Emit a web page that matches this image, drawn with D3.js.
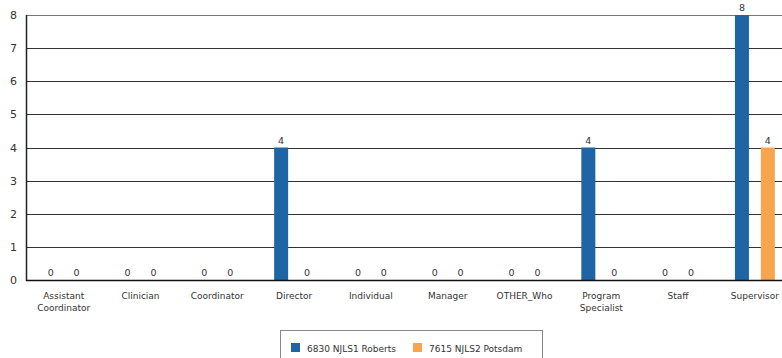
<!DOCTYPE html>
<html>
<head>
<meta charset="utf-8">
<script src="https://cdn.jsdelivr.net/npm/d3@7"></script>
<style>
  body { margin: 0; background: #fff; }
  svg { display: block; font-family: "DejaVu Sans", Verdana, sans-serif; }
</style>
</head>
<body>
<svg width="782" height="358"></svg>
<script>
var categories = ['Assistant Coordinator', 'Clinician', 'Coordinator', 'Director', 'Individual',
  'Manager', 'OTHER_Who', 'Program Specialist', 'Staff', 'Supervisor'];
var series = ['6830 NJLS1 Roberts', '7615 NJLS2 Potsdam'];
var roberts = [0, 0, 0, 4, 0, 0, 0, 4, 0, 8];
var potsdam = [0, 0, 0, 0, 0, 0, 0, 0, 0, 4];
var yTicks = [0, 1, 2, 3, 4, 5, 6, 7, 8];
var colors = ['#1f64a5', '#f9a54f'];

var svg = d3.select('svg');
var plotLeft = 26, plotBottom = 280, plotTop = 15, plotRight = 793.3;

var x0 = d3.scaleBand().domain(categories).range([25.3, plotRight])
  .paddingInner(0.325).paddingOuter(0.1625);
var x1 = d3.scaleBand().domain(series).range([0, x0.bandwidth()]);
var y = d3.scaleLinear().domain([0, 8]).range([plotBottom, plotTop]);
var barW = 14;

// gridlines
svg.append('g').selectAll('line')
  .data(yTicks.filter(function(d) { return d > 0; }))
  .enter().append('line')
  .attr('x1', plotLeft).attr('x2', 782)
  .attr('y1', function(d) { return Math.round(y(d)) + 0.5; })
  .attr('y2', function(d) { return Math.round(y(d)) + 0.5; })
  .attr('stroke', function(d) { return d === 8 ? '#777' : '#333'; })
  .attr('stroke-width', 1);

// y axis labels
var yAxis = d3.axisLeft(y).tickValues(yTicks).tickSize(0).tickPadding(9);
svg.append('g').attr('transform', 'translate(' + plotLeft + ',0)').call(yAxis)
  .call(function(g) {
    g.select('.domain').remove();
    g.selectAll('text').attr('font-size', 11).attr('fill', '#333')
      .attr('font-family', '"DejaVu Sans", sans-serif');
  });

// bars
var rows = categories.map(function(c, i) {
  return { cat: c, vals: [roberts[i], potsdam[i]] };
});
var grp = svg.append('g').selectAll('g').data(rows).enter().append('g')
  .attr('transform', function(d) { return 'translate(' + x0(d.cat) + ',0)'; });

grp.selectAll('rect').data(function(d) {
    return d.vals.map(function(v, j) { return { s: series[j], v: v, j: j }; });
  })
  .enter().append('rect')
  .attr('x', function(d) { return x1(d.s) + x1.bandwidth() / 2 - barW / 2; })
  .attr('width', barW)
  .attr('y', function(d) { return y(d.v); })
  .attr('height', function(d) { return plotBottom - y(d.v); })
  .attr('fill', function(d) { return colors[d.j]; });

grp.selectAll('text').data(function(d) {
    return d.vals.map(function(v, j) { return { s: series[j], v: v }; });
  })
  .enter().append('text')
  .attr('x', function(d) { return x1(d.s) + x1.bandwidth() / 2; })
  .attr('y', function(d) { return y(d.v) - 4; })
  .attr('text-anchor', 'middle')
  .attr('font-size', 9.5)
  .attr('fill', '#333')
  .text(function(d) { return d.v; });

// axis lines
svg.append('line').attr('x1', plotLeft + 0.5).attr('x2', plotLeft + 0.5)
  .attr('y1', plotTop).attr('y2', plotBottom + 1).attr('stroke', '#222').attr('stroke-width', 1.5);
svg.append('line').attr('x1', plotLeft).attr('x2', 782)
  .attr('y1', plotBottom + 0.5).attr('y2', plotBottom + 0.5).attr('stroke', '#111').attr('stroke-width', 1.5);

// category labels
var words = {
  'Assistant Coordinator': ['Assistant', 'Coordinator'],
  'Program Specialist': ['Program', 'Specialist']
};
svg.append('g').selectAll('text').data(categories).enter().append('text')
  .attr('x', function(d) { return x0(d) + x0.bandwidth() / 2; })
  .attr('y', 299)
  .attr('text-anchor', 'middle')
  .attr('font-size', 9)
  .attr('fill', '#333')
  .each(function(d) {
    var lines = words[d] || [d];
    var t = d3.select(this);
    lines.forEach(function(l, i) {
      t.append('tspan').attr('x', x0(d) + x0.bandwidth() / 2)
        .attr('dy', i === 0 ? 0 : 12).text(l);
    });
  });

// legend
var lg = svg.append('g');
lg.append('rect').attr('x', 280.5).attr('y', 330.5).attr('width', 262).attr('height', 32)
  .attr('fill', '#fff').attr('stroke', '#888');
var items = lg.selectAll('g').data(series).enter().append('g')
  .attr('transform', function(d, i) { return 'translate(' + (291 + i * 122) + ',343)'; });
items.append('rect').attr('width', 9).attr('height', 9)
  .attr('fill', function(d, i) { return colors[i]; });
items.append('text').attr('x', 16).attr('y', 8.5).attr('font-size', 9)
  .attr('fill', '#333').text(function(d) { return d; });
</script>
</body>
</html>
